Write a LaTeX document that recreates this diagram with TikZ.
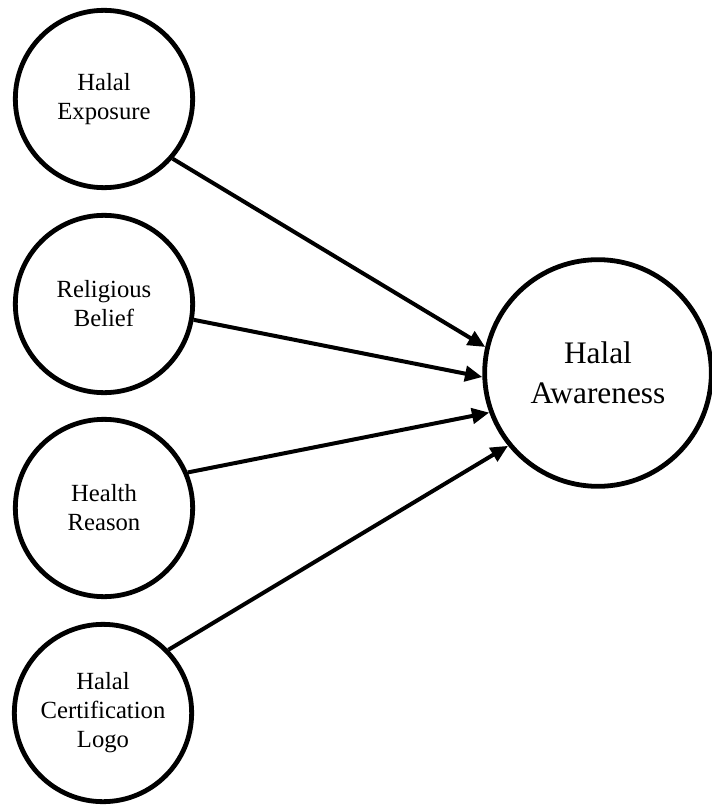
\documentclass[tikz,border=0pt]{standalone}
\usepackage{fontspec}
\setmainfont{Liberation Serif}
\usepackage{tikz}
\usetikzlibrary{arrows.meta,shapes,positioning}

\begin{document}
\begin{tikzpicture}[x=0.75pt,y=-0.75pt]
\tikzstyle{factor} = [circle, draw, line width=3.6pt, minimum size=133pt, inner sep=0pt, align=center, font=\fontsize{18.5}{21.75}\selectfont];%
\tikzstyle{target} = [circle, draw, line width=3.6pt, minimum size=170pt, inner sep=0pt, align=center, font=\fontsize{23.5}{30}\selectfont];%
\tikzstyle{link} = [-{Triangle[length=13pt,width=11.5pt]}, line width=3pt];%

\useasboundingbox (0,0) rectangle (711,806);

\node at (104,99)  [factor] (exposure) {Halal\\Exposure};
\node at (104,304) [factor] (belief) {Religious\\Belief};
\node at (104,508) [factor] (health) {Health\\Reason};
\node at (103,713) [factor] (logo) {Halal\\Certification\\Logo};
\node at (598,373) [target] (aware) {Halal\\Awareness};

\path (exposure.-41) edge[link] (aware.167) ;
\path (belief.-10)   edge[link] (aware.182) ;
\path (health.23)    edge[link] (aware.200) ;
\path (logo.44)      edge[link] (aware.219) ;

\end{tikzpicture}
\end{document}
